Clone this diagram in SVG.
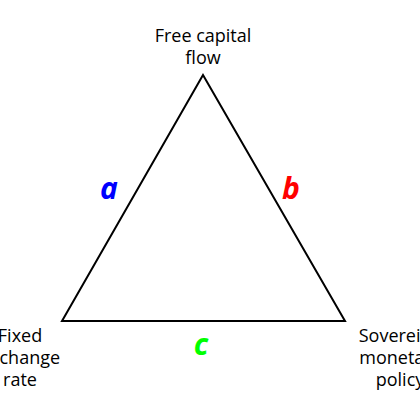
<svg xmlns="http://www.w3.org/2000/svg" width="420" height="420" viewBox="0 0 420 420">
<style>
.lbl{font-family:"Open Sans","Noto Sans",sans-serif;font-size:18px;fill:#000;text-anchor:middle}
.side{font-family:"Open Sans","Noto Sans",sans-serif;font-size:30px;font-weight:bold;font-style:italic;text-anchor:middle}
</style>
<rect width="420" height="420" fill="#fff"/>
<g id="connectors">
<polygon points="203,75 62,321 345,321" fill="none" stroke="#000" stroke-width="2"/>
</g>
<g id="node-top"><text class="lbl" x="203" y="42">Free capital</text><text class="lbl" x="203" y="64">flow</text></g>
<g id="node-left"><text class="lbl" x="20" y="342">Fixed</text><text class="lbl" x="20" y="364">exchange</text><text class="lbl" x="20" y="386">rate</text></g>
<g id="node-right"><text class="lbl" x="400" y="342">Sovereign</text><text class="lbl" x="400" y="364">monetary</text><text class="lbl" x="400" y="386">policy</text></g>
<g id="labels">
<text class="side" x="109" y="199" fill="#0000ff">a</text>
<text class="side" x="291" y="199" fill="#ff0000">b</text>
<text class="side" x="201" y="355" fill="#00ff00">c</text>
</g>
</svg>
